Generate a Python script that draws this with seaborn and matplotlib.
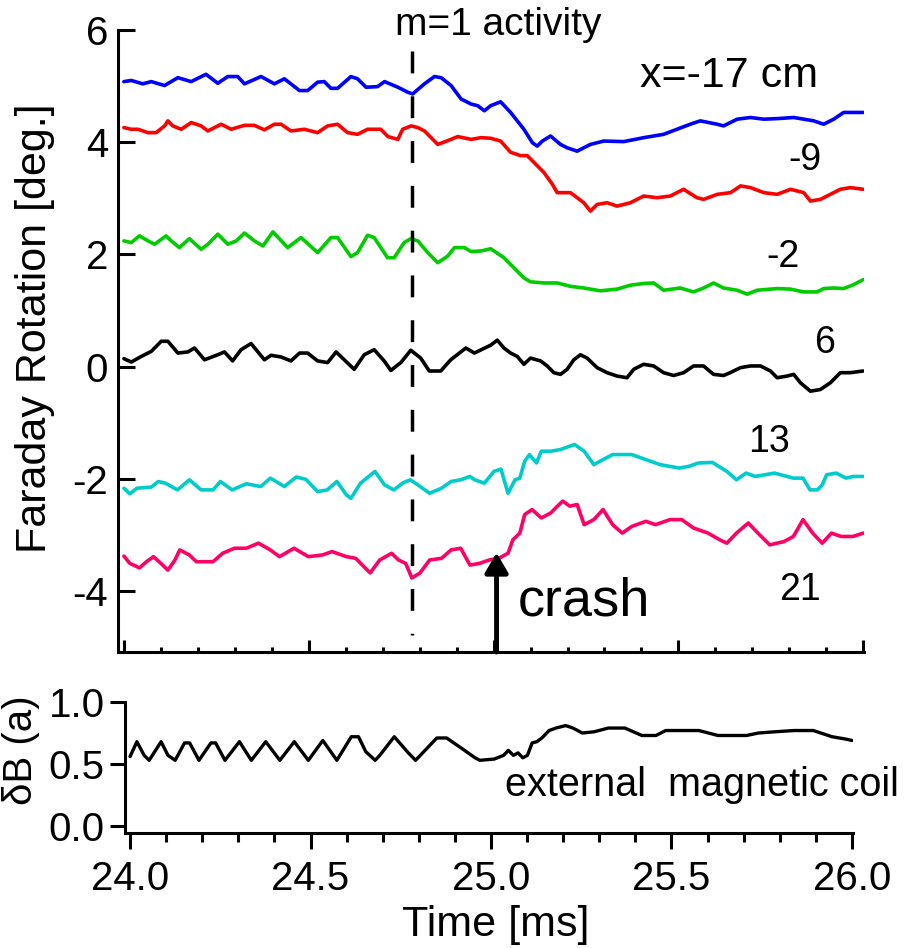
import matplotlib
matplotlib.use("Agg")
import matplotlib.pyplot as plt
from matplotlib.ticker import MultipleLocator, FormatStrFormatter
import numpy as np
import pandas as pd
import seaborn as sns

sns.set_style("ticks")
plt.rcParams["font.family"] = ["Liberation Sans", "DejaVu Sans"]
plt.rcParams["axes.unicode_minus"] = False
for key in ("text.color", "axes.labelcolor", "xtick.color", "ytick.color",
            "axes.edgecolor", "xtick.labelcolor", "ytick.labelcolor"):
    plt.rcParams[key] = "black"

# ---------------- data ----------------
probes = ["x=-17 cm", "-9", "-2", "6", "13", "21"]
colors = ["#0000FF", "#FF0000", "#00CC00", "#000000", "#00CCCC", "#FF0066"]

t_blue = [24.000, 24.020, 24.051, 24.074, 24.110, 24.146, 24.182, 24.222, 24.254, 24.281,
          24.308, 24.326, 24.371, 24.407, 24.434, 24.475, 24.497, 24.524, 24.542, 24.560,
          24.578, 24.614, 24.632, 24.655, 24.686, 24.705, 24.741, 24.768, 24.781, 24.813,
          24.840, 24.858, 24.885, 24.912, 24.939, 24.957, 24.975, 24.992, 25.019, 25.046,
          25.082, 25.105, 25.118, 25.132, 25.154, 25.181, 25.199, 25.226, 25.262, 25.298,
          25.352, 25.406, 25.460, 25.496, 25.532, 25.559, 25.605, 25.622, 25.659, 25.695,
          25.731, 25.767, 25.812, 25.839, 25.866, 25.893, 25.920, 25.947, 25.974, 26.000]
v_blue = [5.08, 5.10, 5.04, 5.08, 5.01, 5.15, 5.08, 5.21, 5.05, 5.17,
          5.17, 5.04, 5.17, 5.04, 5.13, 4.92, 4.92, 5.07, 5.08, 4.96,
          4.96, 5.17, 5.13, 4.98, 4.99, 5.08, 4.98, 4.89, 4.86, 5.04,
          5.17, 5.15, 5.01, 4.77, 4.68, 4.65, 4.56, 4.65, 4.72, 4.53,
          4.23, 3.99, 3.93, 4.02, 4.11, 3.96, 3.90, 3.84, 3.96, 4.02,
          4.01, 4.08, 4.14, 4.23, 4.32, 4.38, 4.32, 4.29, 4.41, 4.44,
          4.41, 4.42, 4.44, 4.41, 4.38, 4.32, 4.41, 4.53, 4.53, 4.53]

t_red = [24.000, 24.020, 24.038, 24.065, 24.087, 24.110, 24.119, 24.132, 24.155, 24.182,
         24.209, 24.227, 24.263, 24.290, 24.326, 24.353, 24.380, 24.407, 24.425, 24.452,
         24.488, 24.524, 24.551, 24.578, 24.605, 24.632, 24.659, 24.695, 24.714, 24.741,
         24.754, 24.777, 24.795, 24.813, 24.831, 24.849, 24.885, 24.903, 24.939, 24.966,
         24.992, 25.019, 25.046, 25.073, 25.091, 25.109, 25.136, 25.159, 25.172, 25.208,
         25.226, 25.244, 25.262, 25.280, 25.307, 25.334, 25.370, 25.406, 25.442, 25.478,
         25.514, 25.550, 25.568, 25.605, 25.641, 25.668, 25.695, 25.731, 25.767, 25.803,
         25.839, 25.857, 25.884, 25.902, 25.938, 25.965, 26.000]
v_red = [4.26, 4.23, 4.23, 4.17, 4.17, 4.29, 4.38, 4.29, 4.23, 4.35,
         4.29, 4.20, 4.32, 4.23, 4.30, 4.30, 4.22, 4.32, 4.32, 4.20,
         4.23, 4.17, 4.29, 4.32, 4.17, 4.14, 4.23, 4.23, 4.10, 4.05,
         4.23, 4.29, 4.26, 4.20, 4.08, 3.96, 4.05, 4.10, 4.05, 4.08,
         4.07, 4.02, 3.82, 3.76, 3.76, 3.64, 3.46, 3.25, 3.10, 3.10,
         3.01, 2.92, 2.77, 2.89, 2.92, 2.86, 2.92, 3.04, 3.01, 3.04,
         3.16, 3.01, 2.98, 3.07, 3.10, 3.22, 3.19, 3.10, 3.07, 3.16,
         3.10, 2.95, 2.98, 3.04, 3.16, 3.19, 3.16]

t_green = [24.000, 24.020, 24.042, 24.065, 24.083, 24.114, 24.128, 24.150, 24.177, 24.209,
           24.227, 24.254, 24.281, 24.304, 24.326, 24.353, 24.376, 24.403, 24.443, 24.479,
           24.524, 24.560, 24.578, 24.614, 24.632, 24.659, 24.677, 24.713, 24.731, 24.758,
           24.776, 24.795, 24.822, 24.849, 24.876, 24.894, 24.921, 24.939, 24.966, 24.992,
           25.028, 25.055, 25.082, 25.100, 25.136, 25.172, 25.208, 25.244, 25.289, 25.334,
           25.370, 25.406, 25.433, 25.460, 25.505, 25.541, 25.568, 25.595, 25.622, 25.659,
           25.686, 25.713, 25.767, 25.803, 25.839, 25.875, 25.893, 25.920, 25.947, 25.974,
           26.000]
v_green = [2.24, 2.21, 2.33, 2.24, 2.18, 2.33, 2.24, 2.12, 2.28, 2.09,
           2.18, 2.36, 2.18, 2.24, 2.38, 2.24, 2.15, 2.40, 2.12, 2.30,
           2.03, 2.30, 2.30, 1.96, 2.03, 2.34, 2.30, 1.94, 1.94, 2.21,
           2.28, 2.24, 2.03, 1.85, 1.97, 2.12, 2.12, 2.05, 2.06, 2.10,
           1.94, 1.76, 1.58, 1.51, 1.49, 1.49, 1.43, 1.40, 1.35, 1.38,
           1.45, 1.48, 1.49, 1.36, 1.40, 1.33, 1.40, 1.49, 1.40, 1.36,
           1.29, 1.36, 1.39, 1.38, 1.33, 1.33, 1.39, 1.40, 1.39, 1.46,
           1.55]

t_black = [24.000, 24.020, 24.047, 24.074, 24.101, 24.119, 24.146, 24.173, 24.191, 24.218,
           24.254, 24.272, 24.294, 24.317, 24.344, 24.380, 24.398, 24.425, 24.452, 24.475,
           24.497, 24.524, 24.551, 24.574, 24.596, 24.623, 24.650, 24.677, 24.704, 24.722,
           24.749, 24.776, 24.803, 24.826, 24.857, 24.884, 24.925, 24.948, 24.992,
           25.010, 25.028, 25.046, 25.064, 25.082, 25.100, 25.127, 25.145, 25.163, 25.181,
           25.199, 25.217, 25.235, 25.253, 25.280, 25.307, 25.334, 25.361, 25.379, 25.406,
           25.433, 25.460, 25.487, 25.514, 25.541, 25.568, 25.595, 25.622, 25.640, 25.668,
           25.695, 25.722, 25.749, 25.767, 25.794, 25.812, 25.830, 25.857, 25.884, 25.911,
           25.938, 25.965, 26.000]
v_black = [0.14, 0.08, 0.18, 0.27, 0.45, 0.45, 0.24, 0.26, 0.33, 0.12,
           0.21, 0.26, 0.10, 0.30, 0.41, 0.12, 0.20, 0.17, 0.10, 0.24,
           0.24, 0.10, 0.07, 0.26, 0.12, -0.05, 0.21, 0.30, 0.10, -0.07,
           0.07, 0.29, 0.15, -0.08, -0.08, 0.12, 0.33, 0.24, 0.38,
           0.47, 0.33, 0.24, 0.18, 0.04, 0.15, 0.10, 0.01, -0.11, -0.14,
           -0.05, 0.12, 0.21, 0.15, -0.02, -0.11, -0.17, -0.20, -0.05, 0.04,
           0.01, -0.11, -0.16, -0.11, 0.01, 0.01, -0.14, -0.16, -0.11, -0.02,
           0.01, 0.01, -0.08, -0.20, -0.17, -0.14, -0.29, -0.44, -0.41, -0.29,
           -0.11, -0.11, -0.08]

t_cyan = [24.000, 24.016, 24.035, 24.074, 24.093, 24.112, 24.145, 24.177, 24.209, 24.241,
          24.261, 24.293, 24.331, 24.370, 24.396, 24.434, 24.466, 24.492, 24.524, 24.550,
          24.576, 24.602, 24.614, 24.640, 24.679, 24.705, 24.730, 24.756, 24.775, 24.795,
          24.827, 24.859, 24.885, 24.911, 24.936, 24.949, 24.975, 25.001, 25.020, 25.039,
          25.058, 25.071, 25.084, 25.097, 25.116, 25.129, 25.155, 25.181, 25.219, 25.245,
          25.271, 25.296, 25.322, 25.374, 25.412, 25.451, 25.502, 25.528, 25.554, 25.592,
          25.631, 25.657, 25.683, 25.708, 25.760, 25.811, 25.837, 25.856, 25.876, 25.889,
          25.901, 25.927, 25.953, 25.972, 26.000]
v_cyan = [-2.17, -2.27, -2.17, -2.15, -2.05, -2.08, -2.20, -2.02, -2.20, -2.20,
          -2.05, -2.20, -2.09, -2.14, -1.99, -2.14, -1.97, -2.01, -2.23, -2.20,
          -2.05, -2.29, -2.35, -2.08, -1.87, -2.11, -2.20, -2.07, -2.02, -2.11,
          -2.26, -2.17, -2.05, -2.02, -1.96, -2.02, -2.08, -1.87, -1.83, -2.26,
          -2.02, -1.99, -1.69, -1.57, -1.72, -1.51, -1.51, -1.48, -1.39, -1.51,
          -1.75, -1.66, -1.57, -1.57, -1.66, -1.75, -1.81, -1.78, -1.72, -1.71,
          -1.87, -2.02, -1.90, -1.96, -1.90, -1.99, -1.99, -2.20, -2.20, -2.11,
          -1.93, -1.90, -1.99, -1.96, -1.96]

t_pink = [24.000, 24.016, 24.042, 24.061, 24.080, 24.100, 24.119, 24.138, 24.151, 24.177,
          24.196, 24.241, 24.267, 24.299, 24.331, 24.364, 24.396, 24.421, 24.460, 24.499,
          24.537, 24.563, 24.602, 24.627, 24.666, 24.692, 24.724, 24.743, 24.762, 24.779,
          24.801, 24.827, 24.859, 24.885, 24.911, 24.936, 24.962, 24.988, 25.014, 25.039,
          25.052, 25.071, 25.084, 25.104, 25.129, 25.155, 25.168, 25.187, 25.206, 25.226,
          25.245, 25.271, 25.296, 25.322, 25.348, 25.374, 25.412, 25.438, 25.477, 25.509,
          25.541, 25.580, 25.612, 25.631, 25.657, 25.689, 25.715, 25.747, 25.786, 25.811,
          25.837, 25.863, 25.889, 25.914, 25.940, 25.972, 26.000]
v_pink = [-3.38, -3.51, -3.59, -3.48, -3.39, -3.51, -3.63, -3.45, -3.27, -3.36,
          -3.48, -3.48, -3.33, -3.24, -3.24, -3.15, -3.27, -3.39, -3.24, -3.39,
          -3.36, -3.30, -3.39, -3.42, -3.68, -3.45, -3.33, -3.45, -3.51, -3.77,
          -3.68, -3.45, -3.42, -3.27, -3.24, -3.54, -3.51, -3.45, -3.42, -3.33,
          -3.09, -2.97, -2.64, -2.55, -2.70, -2.61, -2.52, -2.40, -2.49, -2.46,
          -2.82, -2.73, -2.55, -2.82, -2.97, -2.85, -2.76, -2.82, -2.73, -2.73,
          -2.88, -2.97, -3.09, -3.15, -2.97, -2.79, -2.97, -3.18, -3.12, -3.03,
          -2.73, -2.97, -3.15, -2.97, -3.03, -3.03, -2.97]

t_coil = [24.000, 24.019, 24.039, 24.053, 24.086, 24.105, 24.125, 24.151, 24.165, 24.191,
          24.224, 24.237, 24.263, 24.303, 24.336, 24.376, 24.415, 24.455, 24.494, 24.534,
          24.573, 24.613, 24.633, 24.653, 24.679, 24.692, 24.732, 24.771, 24.791, 24.850,
          24.877, 24.917, 24.956, 24.969, 25.009, 25.035, 25.048, 25.062, 25.075, 25.088,
          25.101, 25.114, 25.127, 25.141, 25.161, 25.180, 25.207, 25.227, 25.253, 25.286,
          25.325, 25.371, 25.418, 25.457, 25.484, 25.576, 25.629, 25.708, 25.741, 25.787,
          25.840, 25.893, 25.945, 25.985, 26.000]
v_coil = [0.56, 0.68, 0.57, 0.53, 0.68, 0.57, 0.53, 0.67, 0.67, 0.53,
          0.67, 0.67, 0.53, 0.68, 0.53, 0.68, 0.53, 0.68, 0.53, 0.69,
          0.53, 0.72, 0.72, 0.60, 0.53, 0.57, 0.72, 0.59, 0.53, 0.71,
          0.71, 0.63, 0.55, 0.53, 0.54, 0.57, 0.61, 0.57, 0.59, 0.55,
          0.57, 0.67, 0.68, 0.71, 0.77, 0.79, 0.81, 0.79, 0.75, 0.76,
          0.79, 0.79, 0.73, 0.73, 0.77, 0.77, 0.73, 0.73, 0.75, 0.76,
          0.77, 0.77, 0.72, 0.70, 0.69]

series_t = [t_blue, t_red, t_green, t_black, t_cyan, t_pink]
series_v = [v_blue, v_red, v_green, v_black, v_cyan, v_pink]

frames = []
for name, tt, vv in zip(probes, series_t, series_v):
    frames.append(pd.DataFrame({"Time": tt, "FR": vv, "probe": name}))
df = pd.concat(frames, ignore_index=True)
df_coil = pd.DataFrame({"Time": t_coil, "dB": v_coil})

# ---------------- figure layout ----------------
W, H = 910, 948
fig = plt.figure(figsize=(W / 100, H / 100), dpi=100)


def fx(px):
    return px / W


def fy(py):
    return 1 - py / H


ax = fig.add_axes([fx(118), fy(652), (864 - 118) / W, (652 - 30) / H])
ax2 = fig.add_axes([fx(125), fy(833), (853 - 125) / W, (833 - 702) / H])

sns.lineplot(data=df, x="Time", y="FR", hue="probe", hue_order=probes,
             palette=colors, estimator=None, sort=False, lw=2.6,
             legend=False, ax=ax)
sns.lineplot(data=df_coil, x="Time", y="dB", color="black", estimator=None,
             sort=False, lw=2.4, legend=False, ax=ax2)

LW = 2.2
for a in (ax, ax2):
    sns.despine(ax=a)
    for s in ("left", "bottom"):
        a.spines[s].set_linewidth(LW)
        a.spines[s].set_color("black")
    a.set_xlabel("")
    a.set_ylabel("")

# top panel axes
ax.set_xlim(23.984, 26.002)
ax.set_ylim(-5.09, 6.0)
ax.xaxis.set_major_locator(MultipleLocator(0.5))
ax.xaxis.set_minor_locator(MultipleLocator(0.1))
ax.yaxis.set_major_locator(MultipleLocator(2))
ax.tick_params(axis="x", which="major", direction="in", length=8.6, width=LW,
               labelbottom=False, color="black")
ax.tick_params(axis="x", which="minor", direction="in", length=3.6, width=LW,
               color="black")
ax.tick_params(axis="y", which="major", direction="in", length=12, width=LW,
               labelsize=29, pad=7, color="black", labelcolor="black")
ax.yaxis.set_major_formatter(FormatStrFormatter("%d"))

# bottom panel axes
ax2.set_xlim(23.986, 26.003)
ax2.set_ylim(-0.056, 1.0)
ax2.xaxis.set_major_locator(MultipleLocator(0.5))
ax2.xaxis.set_minor_locator(MultipleLocator(0.1))
ax2.yaxis.set_major_locator(MultipleLocator(0.5))
ax2.xaxis.set_major_formatter(FormatStrFormatter("%.1f"))
ax2.yaxis.set_major_formatter(FormatStrFormatter("%.1f"))
ax2.tick_params(axis="x", which="major", direction="out", length=11.5, width=LW,
                labelsize=29, pad=8, color="black", labelcolor="black")
ax2.tick_params(axis="x", which="minor", direction="out", length=6.5, width=LW,
                color="black")
ax2.tick_params(axis="y", which="major", direction="out", length=11, width=LW,
                labelsize=29, pad=3.6, color="black", labelcolor="black")

# dashed marker for m=1 activity
ax.plot([24.78, 24.78], [5.62, -4.79], color="black", lw=2.5, dashes=(6.3, 6.6))

# crash arrow
ax.annotate("", xy=(25.008, -3.32), xytext=(25.008, -5.09),
            arrowprops=dict(arrowstyle="-|>,head_length=0.6,head_width=0.35",
                            mutation_scale=20, lw=3.5, color="black",
                            shrinkA=0, shrinkB=0))

# texts
fig.text(fx(35), fy(328), "Faraday Rotation [deg.]", rotation=90,
         ha="center", va="center", size=31, color="black")
fig.text(fx(21), fy(750), "\u03b4B (a)", rotation=90,
         ha="center", va="center", size=29, color="black")
fig.text(fx(496), fy(925), "Time [ms]", ha="center", va="center", size=31,
         color="black")

labels = [
    (498, 35, "m=1 activity", "center", 28),
    (640, 87, "x=-17 cm", "left", 31),
    (822, 170, "-9", "right", 27),
    (800, 267, "-2", "right", 27),
    (835, 353, "6", "right", 27),
    (790, 452, "13", "right", 27),
    (821, 600, "21", "right", 27),
    (518, 615, "crash", "left", 39),
    (505, 796, "external  magnetic coil", "left", 28.5),
]
for px, py, s, ha, size in labels:
    fig.text(fx(px), fy(py), s, ha=ha, va="baseline", size=size, color="black")

fig.savefig("out.png", dpi=100)
